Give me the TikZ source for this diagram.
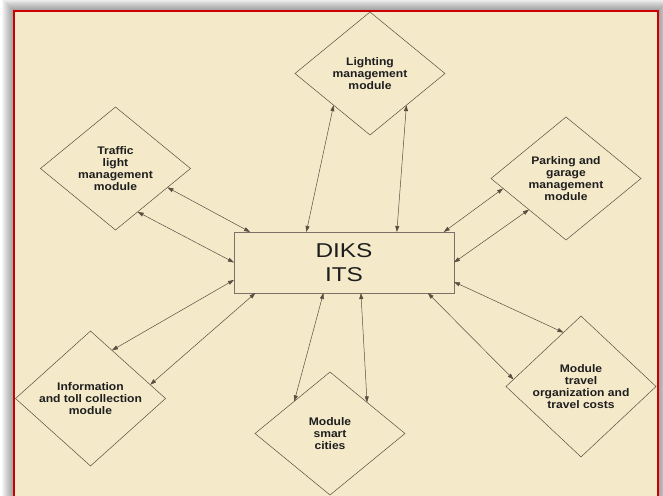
\documentclass[tikz,border=0pt]{standalone}
\usepackage{fontspec}
\usetikzlibrary{shapes.geometric,arrows.meta}
\newfontfamily\lblfont[FakeStretch=1.1]{Liberation Sans}
\newfontfamily\bigfont[FakeStretch=1.22]{Liberation Sans}
\definecolor{paper}{HTML}{F4EACA}
\definecolor{linec}{HTML}{5A4E40}
\definecolor{frame}{HTML}{CC0000}
\definecolor{txt}{HTML}{1E1E1E}
\tikzset{
  mod/.style={diamond, draw=linec, line width=0.5pt, minimum width=150pt, minimum height=123pt,
    inner sep=0pt, outer sep=0pt, align=center, text=txt,
    font=\lblfont\bfseries\fontsize{11}{12}\selectfont},
  core/.style={rectangle, draw=linec!80, line width=0.5pt, minimum width=220pt, minimum height=61pt,
    inner sep=0pt, outer sep=0pt, align=center, text=txt,
    font=\bigfont\fontsize{20}{24}\selectfont},
  link/.style={draw=linec, line width=0.5pt,
    {Triangle[length=6pt,width=4pt]}-{Triangle[length=6pt,width=4pt]}}
}
\begin{document}
\begin{tikzpicture}[x=1pt,y=-1pt]
\useasboundingbox (0,0) rectangle (663,495);
\fill[white] (0,0) rectangle (663,495);
\foreach \i in {1,...,12} {\fill[black, opacity=0.035] (14-\i,11-\i) rectangle (658+\i,510);}
\fill[paper] (14,11) rectangle (658,500);
\draw[frame, line width=2pt] (14,11) rectangle (658,500);

\node[core] (diks) at (344,262.5) {DIKS\\ITS};
\node[mod] (light) at (370,73.5) {Lighting\\management\\module};
\node[mod] (traffic) at (115.5,168.5) {Traffic\\light\\management\\module};
\node[mod] (park) at (566,178.5) {Parking and\\garage\\management\\module};
\node[mod] (info) at (90.5,398.5) {Information\\and toll collection\\module};
\node[mod] (smart) at (330,433.5) {Module\\smart\\cities};
\node[mod] (travel) at (581,386.5) {Module\\travel\\organization and\\travel costs};

\draw[link] (traffic.-20.7) -- (diks.162.5);
\draw[link] (traffic.-63.7) -- (diks.180);
\draw[link] (light.-139.5) -- (diks.141.1);
\draw[link] (light.-41.3) -- (diks.30.5);
\draw[link] (park.189.5) -- (diks.17.2);
\draw[link] (park.220.5) -- (diks.0);
\draw[link] (info.66.7) -- (diks.189.5);
\draw[link] (info.13.9) -- (diks.199.7);
\draw[link] (smart.138.8) -- (diks.-124.9);
\draw[link] (smart.40.4) -- (diks.-61);
\draw[link] (travel.108.1) -- (diks.-10);
\draw[link] (travel.174.5) -- (diks.-20.1);
\end{tikzpicture}
\end{document}
